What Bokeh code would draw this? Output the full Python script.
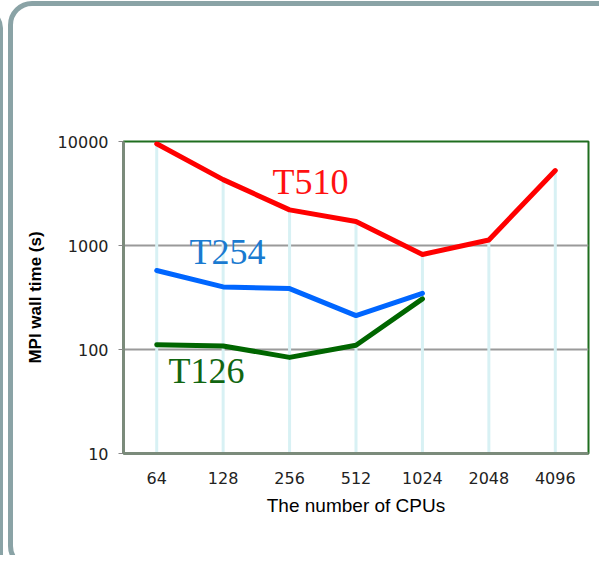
from bokeh.plotting import figure
from bokeh.models import FactorRange, Range1d, FixedTicker, NumeralTickFormatter, Label, InlineStyleSheet
from bokeh.embed import file_html
from bokeh.resources import INLINE

# ---- data ----
cpus = ["64", "128", "256", "512", "1024", "2048", "4096"]
t510 = [9500, 4300, 2200, 1700, 820, 1130, 5250]
t254_cpus = ["64", "128", "256", "512", "1024"]
t254 = [575, 400, 385, 212, 347]
t126_cpus = ["64", "128", "256", "512", "1024"]
t126 = [111, 108, 84, 110, 307]
y_ticks = [10, 100, 1000, 10000]
grid_ticks = [100, 1000]
y_floor = 10

# slide panel decoration (pure CSS, drawn around the canvas)
panel_css = InlineStyleSheet(css="""
:host { position: relative; overflow: hidden; }
:host::after {
  content: ""; position: absolute; left: 8px; top: 1px; width: 614px; height: 569px;
  box-sizing: border-box; border: 5px solid #8aa3a6; border-radius: 24px;
  pointer-events: none;
}
:host::before {
  content: ""; position: absolute; left: -200px; top: 8px; width: 203px; height: 700px;
  box-sizing: border-box; border: 5px solid #8aa3a6; border-radius: 20px;
  pointer-events: none; z-index: 2;
}
""")

p = figure(width=599, height=555,
           x_range=FactorRange(factors=cpus, range_padding=0),
           y_range=Range1d(10, 10000), y_axis_type="log",
           output_backend="svg", toolbar_location=None,
           min_border_left=123, min_border_right=11,
           min_border_top=141, min_border_bottom=102,
           stylesheets=[panel_css])
p.background_fill_color = "white"
p.border_fill_color = "white"
p.outline_line_color = "#1f6e1f"
p.outline_line_width = 2

# grid
p.xgrid.visible = False
p.ygrid.ticker = FixedTicker(ticks=grid_ticks)
p.ygrid.grid_line_color = "#9a9a9a"
p.ygrid.grid_line_width = 2

axis_col = "#7b8b7b"
# x axis
xa = p.xaxis[0]
xa.axis_line_color = axis_col
xa.axis_line_width = 3
xa.major_tick_line_color = None
xa.minor_tick_line_color = None
xa.major_label_text_font = "DejaVu Sans"
xa.major_label_text_font_size = "16px"
xa.major_label_text_color = "#222222"
xa.major_label_standoff = 12
xa.axis_label = "The number of CPUs"
xa.axis_label_text_font = "Liberation Sans"
xa.axis_label_text_font_size = "19px"
xa.axis_label_text_font_style = "normal"
xa.axis_label_text_color = "black"
xa.axis_label_standoff = 8

# y axis
ya = p.yaxis[0]
ya.ticker = FixedTicker(ticks=y_ticks, minor_ticks=[])
ya.formatter = NumeralTickFormatter(format="0")
ya.axis_line_color = axis_col
ya.axis_line_width = 3
ya.major_tick_out = 5
ya.major_tick_in = 0
ya.major_tick_line_color = "#888888"
ya.minor_tick_line_color = None
ya.major_label_text_font = "DejaVu Sans"
ya.major_label_text_font_size = "16px"
ya.major_label_text_color = "#222222"
ya.major_label_standoff = 10
ya.axis_label = "MPI wall time (s)"
ya.axis_label_text_font = "Liberation Sans"
ya.axis_label_text_font_size = "17px"
ya.axis_label_text_font_style = "bold"
ya.axis_label_text_color = "black"
ya.axis_label_standoff = 10

# drop lines from the top series value down to the axis
tops = [max(v) for v in zip(t510, t254 + [0, 0], t126 + [0, 0])]
p.segment(x0=cpus, y0=[y_floor] * len(cpus), x1=cpus, y1=tops,
          line_color="#d8f1f4", line_width=3)

p.line(t126_cpus, t126, line_color="#006600", line_width=5, line_cap="round", line_join="round")
p.line(t254_cpus, t254, line_color="#0066ff", line_width=5, line_cap="round", line_join="round")
p.line(cpus, t510, line_color="#ff0000", line_width=5, line_cap="round", line_join="round")

lab_font = "Liberation Serif"
p.add_layout(Label(x=2.243, y=4121, text="T510", text_font=lab_font, text_font_size="36px",
                   text_color="#ff1111", text_baseline="alphabetic"))
p.add_layout(Label(x=0.994, y=875, text="T254", text_font=lab_font, text_font_size="36px",
                   text_color="#1a7ad0", text_baseline="alphabetic"))
p.add_layout(Label(x=0.677, y=62.8, text="T126", text_font=lab_font, text_font_size="36px",
                   text_color="#116611", text_baseline="alphabetic"))

open("out.html", "w").write(file_html(p, INLINE))
